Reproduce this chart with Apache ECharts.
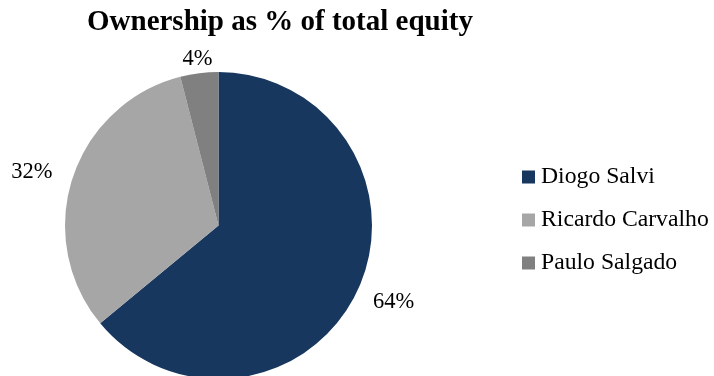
<!DOCTYPE html>
<html>
<head>
<meta charset="utf-8">
<script src="https://cdn.jsdelivr.net/npm/echarts@6/dist/echarts.min.js"></script>
<style>html,body{margin:0;padding:0;background:#fff}#c{width:714px;height:376px}</style>
</head>
<body>
<div id="c"></div>
<script>
const names = ['Diogo Salvi', 'Ricardo Carvalho', 'Paulo Salgado'];
const values = [64, 32, 4];
const colors = ['#17375E', '#A6A6A6', '#808080'];
const labelLen = [26, 20, 14];
const labelDist = [-8, 1, -15];

const font = '"Liberation Serif", "Times New Roman", serif';
const chart = echarts.init(document.getElementById('c'), null, {renderer: 'canvas'});
chart.setOption({
  animation: false,
  title: {
    text: 'Ownership as % of total equity',
    left: 87, top: 8,
    padding: 0,
    textStyle: {fontFamily: font, fontSize: 29, fontWeight: 'bold', color: '#000'}
  },
  legend: {
    orient: 'vertical',
    left: 522, top: 165,
    padding: 0,
    itemWidth: 13, itemHeight: 13, itemGap: 19,
    icon: 'rect',
    data: names,
    textStyle: {fontFamily: font, fontSize: 23.7, lineHeight: 23, color: '#000', padding: [0, 0, 0, 1]}
  },
  series: [{
    type: 'pie',
    center: [218.5, 225.5],
    radius: [0, 153.5],
    startAngle: 90,
    clockwise: true,
    avoidLabelOverlap: false,
    silent: true,
    itemStyle: {borderWidth: 0},
    label: {
      show: true, position: 'outside',
      fontFamily: font, fontSize: 22.5, color: '#000',
      formatter: p => p.value + '%'
    },
    labelLine: {show: false, length2: 0},
    data: names.map((n, i) => ({
      name: n, value: values[i],
      itemStyle: {color: colors[i]},
      labelLine: {show: false, length: labelLen[i], length2: 0},
      label: {distanceToLabelLine: labelDist[i]}
    }))
  }]
});
</script>
</body>
</html>
